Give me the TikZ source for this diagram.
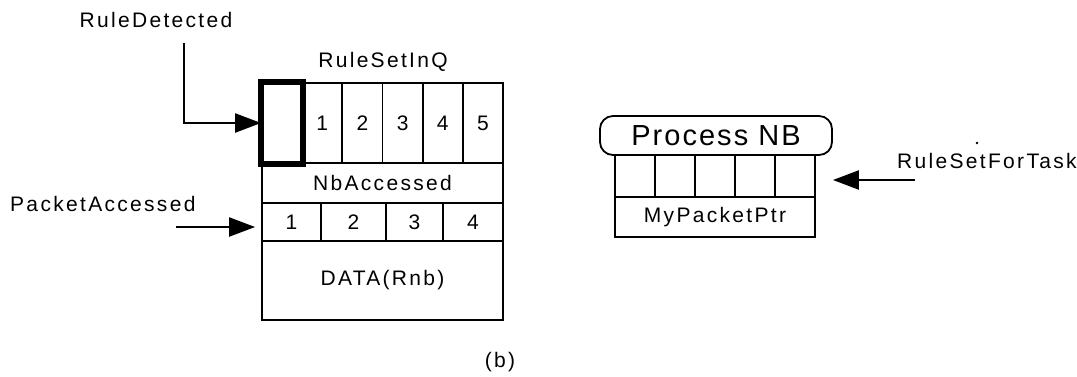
\documentclass[tikz,border=0pt]{standalone}
\usepackage{fontspec}
\setmainfont{Liberation Sans}[LetterSpace=11]
\usetikzlibrary{arrows.meta}
\newcommand\lblfont{\fontsize{21}{25}\selectfont}
\newcommand\bigfont{\fontsize{29}{33}\selectfont\addfontfeature{LetterSpace=7}}
\begin{document}
\begin{tikzpicture}[x=1pt,y=-1pt,
  cell/.style={draw, line width=1.8pt, inner sep=0pt, font=\lblfont},
  lbl/.style={inner sep=0pt, font=\lblfont},
  arr/.style={line width=2.2pt, -{Triangle[length=26pt,width=19pt]}},
  procbox/.style={draw, line width=1.8pt, rounded corners=13pt, inner sep=0pt,
    minimum width=232pt, minimum height=39pt, font=\bigfont}]
\useasboundingbox (0,0) rectangle (1077,376);

% rule queue: six cells, the first one marked
\foreach \i/\t in {0/{},1/1,2/2,3/3,4/4,5/5}
  \node[cell, minimum width=40.17pt, minimum height=80pt] (q\i)
    at ({262+40.17*\i+20.085},123) {\t};
\draw[line width=5.5pt] (q0.south west) rectangle (q0.north east);

% counter row
\node[cell, minimum width=241pt, minimum height=40pt] (nb) at (382.5,183) {NbAccessed};

% packet slots
\node[cell, minimum width=59pt, minimum height=38pt] (p1) at (291.5,222) {1};
\node[cell, minimum width=65pt, minimum height=38pt] (p2) at (353.5,222) {2};
\node[cell, minimum width=57pt, minimum height=38pt] (p3) at (414.5,222) {3};
\node[cell, minimum width=60pt, minimum height=38pt] (p4) at (473,222) {4};

% data area
\node[cell, minimum width=241pt, minimum height=79pt] (data) at (382.5,280.5) {DATA(Rnb)};

% labels of the left structure
\node[lbl, anchor=base] (rsq) at (383,67) {RuleSetInQ};
\node[lbl, anchor=base] (rd) at (156,27) {RuleDetected};
\node[lbl, anchor=base west] (pa) at (10,211) {PacketAccessed};

% incoming arrows
\coordinate (rdstart) at (184,43);
\draw[arr] (rdstart) |- (q0.west);
\coordinate (pastart) at (176,227);
\draw[arr, shorten >=6pt] (pastart) -- (p1.west |- pastart);

% process structure
\node[procbox] (proc) at (716,135.5) {Process NB};
\foreach \i in {1,...,5}
  \node[cell, minimum width=40pt, minimum height=42pt] (t\i) at ({595+40*\i},176) {};
\node[cell, minimum width=200pt, minimum height=40pt] (ptr) at (715,217) {MyPacketPtr};

\node[lbl, anchor=base west] (rsft) at (897,168) {RuleSetForTask};
\fill (977,143) circle (1.3pt);
\coordinate (rsstart) at (915,180);
\draw[arr, shorten >=17pt] (rsstart) -- (t5.east |- rsstart);

% caption
\node[inner sep=0pt, font=\fontsize{21}{25}\selectfont] (cap) at (500,362) {(b)};
\end{tikzpicture}
\end{document}
